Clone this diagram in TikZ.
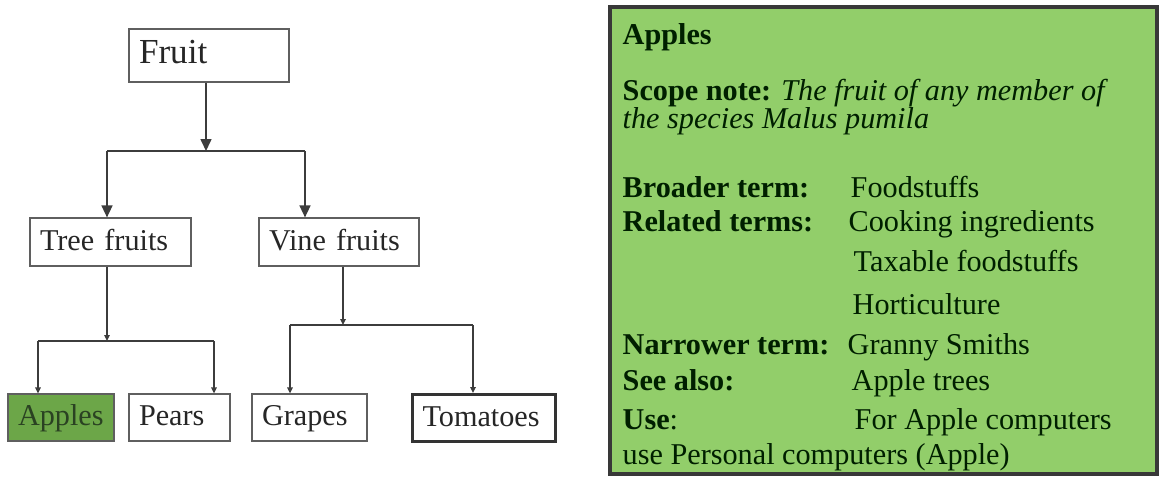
\documentclass[tikz,border=0pt]{standalone}
\usepackage{fontspec}
\setmainfont{Liberation Serif}
\usepackage{tikz}
\usetikzlibrary{arrows.meta}

\definecolor{cardgreen}{RGB}{146,206,106}
\definecolor{applegreen}{RGB}{108,166,72}
\definecolor{appleink}{RGB}{42,66,34}
\definecolor{inkgray}{RGB}{60,60,60}
\definecolor{boxgray}{RGB}{95,95,95}

\begin{document}
\begin{tikzpicture}[x=0.1mm, y=-0.1mm,
    term/.style={draw=boxgray, line width=0.35pt, inner xsep=1mm, inner ysep=0pt,
        align=left, text=black!85, font=\fontsize{8.6pt}{10pt}\selectfont,
        text height=0.7em, text depth=0.24em},
    link/.style={draw=inkgray, line width=0.45pt},
    bigtip/.style={link, -{Triangle[length=1.2mm, width=1.1mm]}},
    smalltip/.style={link, -{Triangle[length=0.6mm, width=0.55mm]}},
    cardtext/.style={anchor=base west, inner sep=0pt, text=black!88!green,
        font=\fontsize{8.6pt}{10pt}\selectfont}]

\useasboundingbox (0,0) rectangle (1163,478);

% tree of terms
\node[term, text width=14mm, minimum height=5.3mm, font=\fontsize{10pt}{12pt}\selectfont] (fruit) at (209,55.5) {Fruit};
\node[term, text width=14.1mm, minimum height=4.8mm] (tree) at (110.5,242) {Tree fruits};
\node[term, text width=14mm, minimum height=4.8mm] (vine) at (339,242) {Vine fruits};
\node[term, text width=8.6mm, minimum height=4.7mm, fill=applegreen, text=appleink] (apples) at (61,417.5) {Apples};
\node[term, text width=8.1mm, minimum height=4.7mm] (pears) at (179.5,417.5) {Pears};
\node[term, text width=9.5mm, minimum height=4.7mm] (grapes) at (309.5,417.5) {Grapes};
\node[term, text width=12.3mm, minimum height=4.7mm, draw=black!80, line width=0.3mm] (tomatoes) at (484,418) {Tomatoes};

\coordinate (j0) at (206,151);
\coordinate (j0l) at (107,151);
\coordinate (j0r) at (305,151);
\draw[bigtip] (fruit.south -| j0) -- (j0);
\draw[link] (j0l) -- (j0r);
\draw[bigtip] (j0l) -- (j0l |- tree.north);
\draw[bigtip] (j0r) -- (j0r |- vine.north);

\coordinate (j1) at (107,341);
\coordinate (j1l) at (38,341);
\coordinate (j1r) at (214,341);
\draw[smalltip] (tree.south -| j1) -- (j1);
\draw[link] (j1l) -- (j1r);
\draw[smalltip] (j1l) -- (j1l |- apples.north);
\draw[smalltip] (j1r) -- (j1r |- pears.north);

\coordinate (j2) at (343,325);
\coordinate (j2l) at (290,325);
\coordinate (j2r) at (473,325);
\draw[smalltip] (vine.south -| j2) -- (j2);
\draw[link] (j2l) -- (j2r);
\draw[smalltip] (j2l) -- (j2l |- grapes.north);
\draw[smalltip] (j2r) -- (j2r |- tomatoes.north);

% thesaurus entry
\node[draw=black!78, line width=0.4mm, fill=cardgreen, minimum width=54.7mm, minimum height=46.7mm, inner sep=0pt] (card) at (883.5,240.5) {};

\node[cardtext] (head) at (622,44) {\textbf{Apples}};
\node[cardtext] (scope) at (622,100) {\textbf{Scope note:} \textit{The fruit of any member of}};
\node[cardtext] (scope2) at (622,128) {\textit{the species Malus pumila}};
\node[cardtext] (bt) at (622,197) {\textbf{Broader term:}};
\node[cardtext] (btv) at (850,197) {Foodstuffs};
\node[cardtext] (rt) at (622,231) {\textbf{Related terms:}};
\node[cardtext] (rtv) at (848,231) {Cooking ingredients};
\node[cardtext] (rtv2) at (853,271) {Taxable foodstuffs};
\node[cardtext] (rtv3) at (852,314) {Horticulture};
\node[cardtext] (nt) at (622,354) {\textbf{Narrower term:}};
\node[cardtext] (ntv) at (847,354) {Granny Smiths};
\node[cardtext] (sa) at (622,390) {\textbf{See also:}};
\node[cardtext] (sav) at (851,390) {Apple trees};
\node[cardtext] (use) at (622,429) {\textbf{Use}:};
\node[cardtext] (usev) at (854,429) {For Apple computers};
\node[cardtext] (use2) at (622,464) {use Personal computers (Apple)};

\end{tikzpicture}
\end{document}
